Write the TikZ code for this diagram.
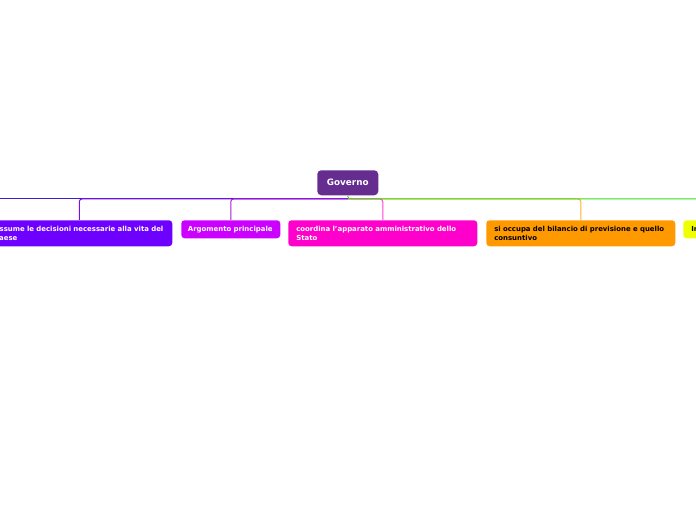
\documentclass[tikz,border=0pt]{standalone}
\usepackage{fontspec}
\setmainfont{DejaVu Sans}
\begin{document}
\begin{tikzpicture}[x=0.75pt,y=-0.75pt,
  box/.style={anchor=north west, rounded corners=2.5pt, inner xsep=6pt, inner ysep=0pt,
    align=left, font=\bfseries\fontsize{5.2}{6.75}\selectfont, text=white},
  conn/.style={line width=0.75pt, rounded corners=2pt}]
\useasboundingbox (0,0) rectangle (696,520);
\clip (0,0) rectangle (696,520);
\definecolor{cgov}{HTML}{662D91}
\definecolor{cone}{HTML}{6E00FF}
\definecolor{ctwo}{HTML}{CC00FF}
\definecolor{cthree}{HTML}{FF00CC}
\definecolor{cfour}{HTML}{FF9900}
\definecolor{cfive}{HTML}{EEFF00}
\definecolor{lblue}{HTML}{3A1FD6}
\definecolor{lone}{HTML}{7A10E8}
\definecolor{ltwo}{HTML}{A818D8}
\definecolor{lgreen}{HTML}{33DD11}

\node[anchor=north west, fill=cgov, rounded corners=3pt, minimum width=61*0.75pt, minimum height=25*0.75pt,
  inner sep=0pt, text=white, font=\bfseries\fontsize{6.6}{8}\selectfont] (gov) at (317,170) {Governo};

\node[box, fill=cone, text width=186*0.75pt-12pt, minimum height=26*0.75pt] (b1) at (-14,220)
  {Assume le decisioni necessarie alla vita del\\Paese};
\node[box, fill=ctwo, inner xsep=5pt, text width=99*0.75pt-10pt, minimum height=18*0.75pt] (b2) at (181,220)
  {\mbox{Argomento principale}};
\node[box, fill=cthree, text width=189*0.75pt-12pt, minimum height=26*0.75pt] (b3) at (288,220)
  {coordina l'apparato amministrativo dello\\Stato};
\node[box, fill=cfour, text=black, text width=189*0.75pt-12pt, minimum height=26*0.75pt] (b4) at (486,220)
  {si occupa del bilancio di previsione e quello\\consuntivo};
\node[box, fill=cfive, text=black, text width=189*0.75pt-12pt, minimum height=18*0.75pt] (b5) at (683,220)
  {In};

\coordinate (hub) at (348,199);
\coordinate (farleft) at (-30,199);
\coordinate (farright) at (730,199);

\draw[conn, lblue] (hub) -- (farleft);
\draw[conn, lone] (hub) -| (b1.north);
\draw[conn, ltwo] (hub) -| (b2.north);
\draw[conn, cfour!80] (hub) -| (b4.north);
\draw[conn, cthree!75] (hub) -| (b3.north);
\draw[conn, lgreen] (gov.south) |- (farright);
\end{tikzpicture}
\end{document}
